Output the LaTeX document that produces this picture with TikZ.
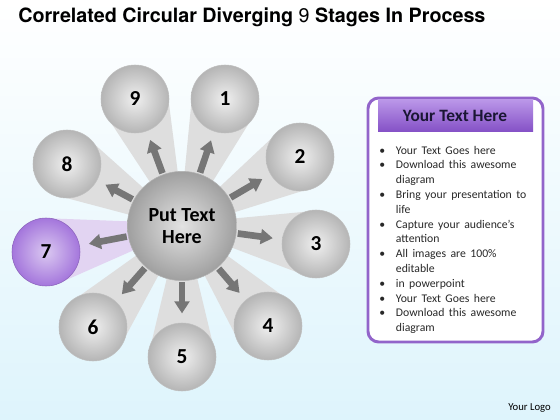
\documentclass[tikz,border=0pt]{standalone}
\usepackage{fontspec}
\setmainfont{Carlito}
\newfontfamily\titlefont{TeX Gyre Heros}
\usepackage{enumitem}
\usetikzlibrary{arrows.meta,calc}

\definecolor{skyback}{RGB}{222,244,252}
\definecolor{beamgray}{RGB}{222,222,222}
\definecolor{beampurple}{RGB}{226,212,242}
\definecolor{ballpurple}{RGB}{164,118,220}
\definecolor{boxpurple}{RGB}{146,100,202}
\definecolor{headtop}{RGB}{186,150,232}
\definecolor{headbot}{RGB}{132,80,198}
\definecolor{arrowgray}{RGB}{118,118,118}

\pgfdeclarelayer{bg}
\pgfdeclarelayer{beams}
\pgfsetlayers{bg,beams,main}

\tikzset{every picture/.style={line width=0.75pt}}
\tikzset{
  stage/.style={circle, minimum size=51pt, inner sep=0pt, draw=gray!50,
    inner color=gray!12, outer color=gray!58,
    font=\bfseries\fontsize{16}{16}\selectfont},
  stagepurple/.style={stage, draw=ballpurple!85!black, inner color=ballpurple!40,
    outer color=ballpurple},
  hubnode/.style={circle, minimum size=82pt, inner sep=0pt, draw=gray!60,
    inner color=gray!22, outer color=gray!75, align=center,
    font=\bfseries\fontsize{15}{16}\selectfont},
  outarrow/.style={draw=arrowgray, line width=5pt,
    -{Triangle[width=11pt,length=9pt]}, shorten <=1pt, shorten >=7pt},
}

\begin{document}
\begin{tikzpicture}[x=0.75pt,y=0.75pt,yscale=-1,xscale=1]

\useasboundingbox (0,0) rectangle (560,420);
\begin{pgfonlayer}{bg}
\shade [top color=white, middle color=white, bottom color=skyback] (0,0) rectangle (560,420);
\end{pgfonlayer}

% title
\node (title) [anchor=west, inner sep=0pt] at (18,17)
  {\titlefont\bfseries\fontsize{14.8}{16}\selectfont Correlated Circular Diverging {\mdseries 9} Stages In Process};

% hub and stages
\node (hub) at (182,226) [hubnode] {Put Text\\Here};
\node (s1) at (225,99) [stage] {1};
\node (s2) at (300,157) [stage] {2};
\node (s3) at (316,244) [stage] {3};
\node (s4) at (268,326) [stage] {4};
\node (s5) at (182,357) [stage] {5};
\node (s6) at (93,327) [stage] {6};
\node (s7) at (46,252) [stagepurple] {7};
\node (s8) at (67,164) [stage] {8};
\node (s9) at (135,99) [stage] {9};

% beams
\begin{pgfonlayer}{beams}
\foreach \s in {s1,s2,s3,s4,s5,s6,s8,s9}
  \fill [beamgray] ($(hub.center)!2pt!90:(\s.center)$) -- ($(\s.center)!25.5pt!-90:(hub.center)$)
    -- ($(\s.center)!25.5pt!90:(hub.center)$) -- ($(hub.center)!2pt!-90:(\s.center)$) -- cycle;
\fill [beampurple] ($(hub.center)!2pt!90:(s7.center)$) -- ($(s7.center)!26pt!-90:(hub.center)$)
    -- ($(s7.center)!26pt!90:(hub.center)$) -- ($(hub.center)!2pt!-90:(s7.center)$) -- cycle;
\end{pgfonlayer}

% arrows
\foreach \s in {s1,s2,s3,s4,s5,s6,s7,s8,s9}
  \draw [outarrow] (hub) -- (\s);

% text box
\draw [draw=boxpurple, line width=2.2pt, fill=white, rounded corners=8pt] (368,98) rectangle (543,342);
\shade [top color=headtop, bottom color=headbot] (378,100) rectangle (533,132);
\node (head) at (455,116) {\bfseries\fontsize{13}{13}\selectfont\color[RGB]{26,22,52} Your Text Here};
\node (body) [anchor=north west, inner sep=0pt, text width=114pt] at (377,139)
  {\fontsize{8.8}{11.1}\selectfont\color[RGB]{40,40,40}
  \begin{itemize}[leftmargin=14pt, labelsep=8pt, itemsep=0pt, topsep=0pt, parsep=0pt, partopsep=0pt]
  \item Your Text Goes here
  \item Download this awesome diagram
  \item Bring your presentation to life
  \item Capture your audience’s attention
  \item All images are 100\% editable
  \item in powerpoint
  \item Your Text Goes here
  \item Download this awesome diagram
  \end{itemize}};

% logo
\node (logo) [anchor=east, inner sep=0pt] at (551,408) {\fontsize{8}{9}\selectfont Your Logo};

\end{tikzpicture}
\end{document}
